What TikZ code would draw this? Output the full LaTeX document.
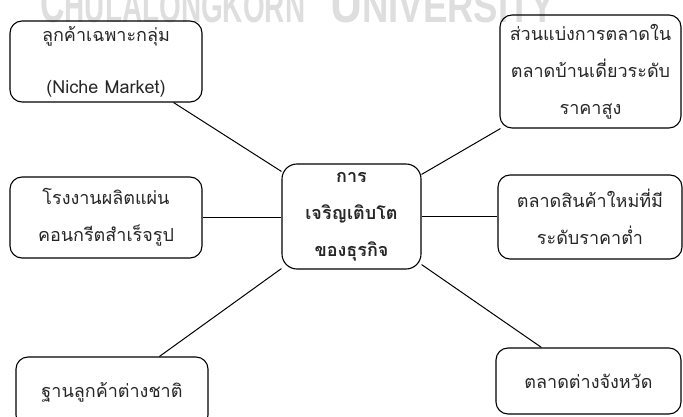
\documentclass[tikz,border=0pt]{standalone}
\usepackage{fontspec}
\newfontfamily\thaifont[Script=Thai]{Loma}
\newfontfamily\wmfont{Liberation Sans}
\usetikzlibrary{calc}
\definecolor{wm}{RGB}{222,222,222}
\definecolor{txt}{RGB}{38,38,38}
\begin{document}
\begin{tikzpicture}[x=1pt,y=-1pt,
  box/.style={draw=black, line width=1.1pt, rounded corners=12pt, align=center,
    inner sep=0pt, text=txt, font=\thaifont\fontsize{18}{37}\selectfont},
  link/.style={draw=black, line width=1pt},
  wmark/.style={text=wm, inner sep=0pt, anchor=base west, font=\wmfont\bfseries}]
\useasboundingbox (0,0) rectangle (683,417);
% watermark
\node[wmark] (w1) at (40,23) {\resizebox{265pt}{\height}{{\fontsize{56}{56}\selectfont C}{\fontsize{46}{46}\selectfont HULALONGKORN}}};
\node[wmark] (w2) at (330,23) {\resizebox{225pt}{\height}{{\fontsize{56}{56}\selectfont U}{\fontsize{46}{46}\selectfont NIVERSITY}}};
% boxes
\node[box, minimum width=192pt, minimum height=81pt] (n1) at (106,61.5)
  {ลูกค้าเฉพาะกลุ่ม\\[15pt](Niche Market)};
\node[box, minimum width=181pt, minimum height=113pt] (n2) at (590.5,71.5)
  {ส่วนแบ่งการตลาดใน\\ตลาดบ้านเดี่ยวระดับ\\ราคาสูง};
\node[box, rounded corners=15pt, minimum width=139pt, minimum height=105pt,
  font=\thaifont\bfseries\fontsize{18}{37}\selectfont] (c) at (351.5,216.5)
  {การ\\เจริญเติบโต\\ของธุรกิจ};
\node[box, minimum width=192pt, minimum height=81pt] (n3) at (106,217.5)
  {โรงงานผลิตแผ่น\\คอนกรีตสำเร็จรูป};
\node[box, minimum width=184pt, minimum height=84pt] (n4) at (590,217)
  {ตลาดสินค้าใหม่ที่มี\\ระดับราคาต่ำ};
\node[box, minimum width=192pt, minimum height=70pt] (n5) at (112,392)
  {ฐานลูกค้าต่างชาติ};
\node[box, minimum width=185pt, minimum height=66pt] (n6) at (588.5,381)
  {ตลาดต่างจังหวัด};
% connectors
\draw[link] ($(n1.south east)+(-29,0)$) -- ($(c.north west)+(0,8)$);
\draw[link] ($(c.north east)+(0,11)$) -- ($(n2.south west)+(1,0)$);
\draw[link] (n3.east) -- (c.west |- n3.east);
\draw[link] (c.east) -- (n4.west |- c.east);
\draw[link] ($(c.south west)+(0,-1)$) -- ($(n5.north west)+(144,0)$);
\draw[link] ($(c.south east)+(0,-5)$) -- ($(n6.north west)+(46,0)$);
\end{tikzpicture}
\end{document}
